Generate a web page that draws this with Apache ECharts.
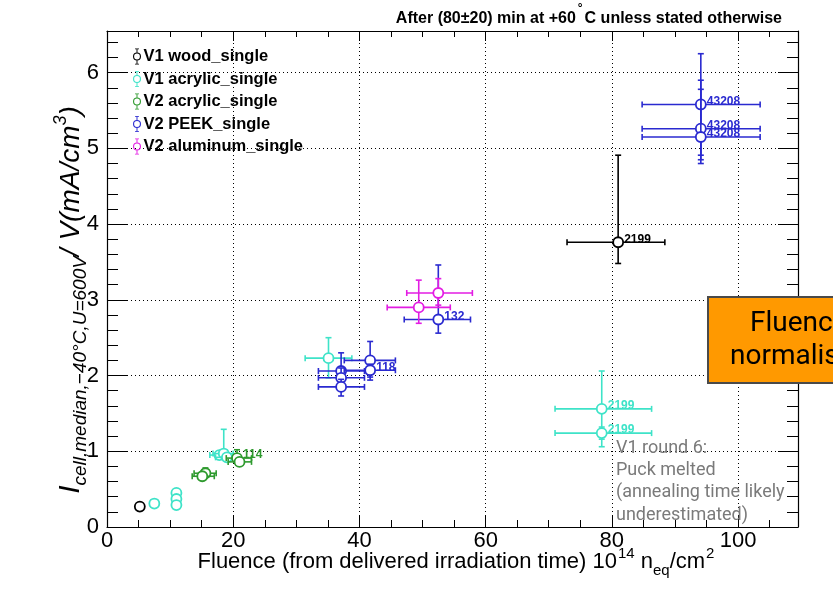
<!DOCTYPE html>
<html>
<head>
<meta charset="utf-8">
<script src="https://cdn.jsdelivr.net/npm/echarts@6/dist/echarts.min.js"></script>
<style>
html,body{margin:0;padding:0;background:#fff;}
#chart{width:833px;height:597px;}
</style>
</head>
<body>
<div id="chart"></div>
<script>
// ---------------- data ----------------
const seriesNames = ['V1 wood_single', 'V1 acrylic_single', 'V2 acrylic_single', 'V2 PEEK_single', 'V2 aluminum_single'];

// V1 wood_single
const woodFluence    = [5.2, 81.0];
const woodCurrent    = [0.27, 3.76];
const woodFluenceLo  = [5.2, 72.9];
const woodFluenceHi  = [5.2, 88.4];
const woodCurrentLo  = [0.27, 3.48];
const woodCurrentHi  = [0.27, 4.91];
const woodLabels     = ['', '2199'];

// V1 acrylic_single
const acrV1Fluence   = [7.5, 11.0, 11.0, 11.0, 17.8, 18.5, 19.0, 35.1, 78.4, 78.4];
const acrV1Current   = [0.31, 0.45, 0.37, 0.29, 0.95, 0.97, 0.92, 2.23, 1.56, 1.24];
const acrV1FluenceLo = [7.5, 11.0, 11.0, 11.0, 16.3, 16.8, 17.2, 31.4, 71.0, 71.0];
const acrV1FluenceHi = [7.5, 11.0, 11.0, 11.0, 19.4, 20.0, 20.6, 38.8, 86.3, 86.3];
const acrV1CurrentLo = [0.31, 0.45, 0.37, 0.29, 0.90, 0.93, 0.88, 1.97, 1.06, 1.16];
const acrV1CurrentHi = [0.31, 0.45, 0.37, 0.29, 1.00, 1.29, 0.97, 2.50, 2.06, 1.32];
const acrV1Labels    = ['', '', '', '', '', '', '', '', '2199', '2199'];

// V2 acrylic_single
const acrV2Fluence   = [15.6, 15.1, 20.6, 21.0];
const acrV2Current   = [0.71, 0.67, 0.91, 0.86];
const acrV2FluenceLo = [13.8, 13.5, 18.9, 19.2];
const acrV2FluenceHi = [17.3, 17.0, 22.9, 22.9];
const acrV2CurrentLo = [0.66, 0.64, 0.85, 0.82];
const acrV2CurrentHi = [0.78, 0.70, 1.02, 0.90];
const acrV2Labels    = ['', '', '114', ''];

// V2 PEEK_single
const peekFluence    = [37.1, 37.1, 37.1, 41.7, 41.7, 52.5, 94.1, 94.1, 94.1];
const peekCurrent    = [2.06, 1.97, 1.85, 2.20, 2.07, 2.74, 5.58, 5.26, 5.15];
const peekFluenceLo  = [33.5, 33.5, 33.5, 37.6, 37.6, 47.1, 84.8, 84.8, 84.8];
const peekFluenceHi  = [40.8, 40.8, 40.8, 45.7, 45.7, 57.6, 103.5, 103.5, 103.5];
const peekCurrentLo  = [1.90, 1.82, 1.73, 1.94, 1.98, 2.56, 4.91, 4.80, 4.85];
const peekCurrentHi  = [2.30, 2.10, 1.95, 2.45, 2.15, 3.46, 6.25, 5.90, 5.78];
const peekLabels     = ['', '', '', '', '118', '132', '43208', '43208', '43208'];

// V2 aluminum_single
const aluFluence     = [49.4, 52.5];
const aluCurrent     = [2.90, 3.09];
const aluFluenceLo   = [44.4, 47.5];
const aluFluenceHi   = [54.4, 57.9];
const aluCurrentLo   = [2.69, 2.93];
const aluCurrentHi   = [3.26, 3.28];
const aluLabels      = ['', ''];

const xTickValues = [0, 20, 40, 60, 80, 100];
const yTickValues = [0, 1, 2, 3, 4, 5, 6];

const annotationLines = ['V1 round 6:', 'Puck melted', '(annealing time likely', 'underestimated)'];
const boxLines = ['Fluence', 'normalised'];

// ---------------- build ----------------
const colors = ['#000000', '#3ee3c8', '#2e9a2e', '#2a2ad0', '#e31ce3'];
const groups = [
  [woodFluence, woodCurrent, woodFluenceLo, woodFluenceHi, woodCurrentLo, woodCurrentHi, woodLabels],
  [acrV1Fluence, acrV1Current, acrV1FluenceLo, acrV1FluenceHi, acrV1CurrentLo, acrV1CurrentHi, acrV1Labels],
  [acrV2Fluence, acrV2Current, acrV2FluenceLo, acrV2FluenceHi, acrV2CurrentLo, acrV2CurrentHi, acrV2Labels],
  [peekFluence, peekCurrent, peekFluenceLo, peekFluenceHi, peekCurrentLo, peekCurrentHi, peekLabels],
  [aluFluence, aluCurrent, aluFluenceLo, aluFluenceHi, aluCurrentLo, aluCurrentHi, aluLabels]
];

function makeRender(labels, color) {
  return function (params, api) {
    const x = api.value(0), y = api.value(1);
    const xlo = api.value(2), xhi = api.value(3), ylo = api.value(4), yhi = api.value(5);
    const p = api.coord([x, y]);
    const pl = api.coord([xlo, y]), ph = api.coord([xhi, y]);
    const pb = api.coord([x, ylo]), pt = api.coord([x, yhi]);
    const st = { stroke: color, lineWidth: 1.6 };
    const ch = [];
    if (xhi - xlo > 0) {
      ch.push({ type: 'line', shape: { x1: pl[0], y1: pl[1], x2: ph[0], y2: ph[1] }, style: st });
      ch.push({ type: 'line', shape: { x1: pl[0], y1: pl[1] - 3, x2: pl[0], y2: pl[1] + 3 }, style: st });
      ch.push({ type: 'line', shape: { x1: ph[0], y1: ph[1] - 3, x2: ph[0], y2: ph[1] + 3 }, style: st });
    }
    if (yhi - ylo > 0) {
      ch.push({ type: 'line', shape: { x1: pb[0], y1: pb[1], x2: pt[0], y2: pt[1] }, style: st });
      ch.push({ type: 'line', shape: { x1: pb[0] - 3, y1: pb[1], x2: pb[0] + 3, y2: pb[1] }, style: st });
      ch.push({ type: 'line', shape: { x1: pt[0] - 3, y1: pt[1], x2: pt[0] + 3, y2: pt[1] }, style: st });
    }
    ch.push({ type: 'circle', shape: { cx: p[0], cy: p[1], r: 5 }, style: { fill: '#fff', stroke: color, lineWidth: 1.8 } });
    const lab = labels[params.dataIndex];
    if (lab) {
      ch.push({ type: 'text', x: p[0] + 6, y: p[1] - 3, style: { text: lab, fill: color, font: 'bold 12px "Liberation Sans", Arial, sans-serif', verticalAlign: 'middle', align: 'left' } });
    }
    return { type: 'group', children: ch };
  };
}

const series = groups.map((g, i) => ({
  name: seriesNames[i],
  type: 'custom',
  coordinateSystem: 'cartesian2d',
  xAxisIndex: 0, yAxisIndex: 0,
  itemStyle: { color: colors[i] },
  renderItem: makeRender(g[6], colors[i]),
  encode: { x: [0, 2, 3], y: [1, 4, 5] },
  data: g[0].map((v, k) => [v, g[1][k], g[2][k], g[3][k], g[4][k], g[5][k]]),
  clip: true,
  z: 10
}));

const legendIcon = 'path://M1,10 A5,5 0 1,0 11,10 A5,5 0 1,0 1,10 Z M2.4,10 A3.6,3.6 0 1,1 9.6,10 A3.6,3.6 0 1,1 2.4,10 Z M5.4,1 H6.6 V5 H5.4 Z M5.4,15 H6.6 V19 H5.4 Z M3.5,0 H8.5 V1 H3.5 Z M3.5,19 H8.5 V20 H3.5 Z';

const axisFont = '"Liberation Sans", Arial, sans-serif';
const xMin = 0, xMax = 109.5, yMin = 0, yMax = 6.55;

const option = {
  backgroundColor: '#fff',
  animation: false,
  grid: { left: 107, right: 35, top: 31, bottom: 70, containLabel: false },
  legend: {
    data: seriesNames.map(n => ({ name: n, icon: legendIcon })),
    orient: 'vertical', left: 128, top: 43,
    itemWidth: 9, itemHeight: 16, itemGap: 5.5,
    textStyle: { fontFamily: axisFont, fontWeight: 'bold', fontSize: 16.5, color: '#000', padding: [0, 0, 0, -3] },
    selectedMode: false
  },
  xAxis: [
    {
      type: 'value', min: xMin, max: xMax, interval: 20, position: 'bottom',
      axisLine: { show: true, onZero: false, lineStyle: { color: '#000', width: 1.2 } },
      axisTick: { show: true, inside: true, length: 12, lineStyle: { color: '#000' } },
      minorTick: { show: true, splitNumber: 4, length: 7, lineStyle: { color: '#000' } },
      axisLabel: { show: true, margin: 3, fontSize: 22, color: '#000', fontFamily: axisFont, showMaxLabel: false,
        formatter: v => (xTickValues.indexOf(v) >= 0 ? String(v) : '') },
      splitLine: { show: true, lineStyle: { color: '#000', type: [1, 3], width: 1 } }
    },
    {
      type: 'value', min: xMin, max: xMax, interval: 20, position: 'top',
      axisLine: { show: true, onZero: false, lineStyle: { color: '#000', width: 1.2 } },
      axisTick: { show: true, inside: true, length: 10, lineStyle: { color: '#000' } },
      minorTick: { show: true, splitNumber: 4, length: 6, lineStyle: { color: '#000' } },
      axisLabel: { show: false },
      splitLine: { show: false }
    }
  ],
  yAxis: [
    {
      type: 'value', min: yMin, max: yMax, interval: 1, position: 'left',
      axisLine: { show: true, onZero: false, lineStyle: { color: '#000', width: 1.2 } },
      axisTick: { show: true, inside: true, length: 20, lineStyle: { color: '#000' } },
      minorTick: { show: true, splitNumber: 5, length: 11, lineStyle: { color: '#000' } },
      axisLabel: { show: true, margin: 8, fontSize: 22, color: '#000', fontFamily: axisFont, showMaxLabel: false,
        formatter: v => (yTickValues.indexOf(v) >= 0 ? String(v) : '') },
      splitLine: { show: true, lineStyle: { color: '#000', type: [1, 3], width: 1 } }
    },
    {
      type: 'value', min: yMin, max: yMax, interval: 1, position: 'right',
      axisLine: { show: true, onZero: false, lineStyle: { color: '#000', width: 1.2 } },
      axisTick: { show: true, inside: true, length: 20, lineStyle: { color: '#000' } },
      minorTick: { show: true, splitNumber: 5, length: 11, lineStyle: { color: '#000' } },
      axisLabel: { show: false },
      splitLine: { show: false }
    }
  ],
  series: series,
  graphic: [
    {
      type: 'text', right: 51, top: 3, z: 20,
      style: {
        text: '{a|After (80±20) min at +60}{s|°}{a|C unless stated otherwise}',
        rich: {
          a: { font: 'bold 16px "Liberation Sans", Arial, sans-serif', fill: '#000', lineHeight: 24, verticalAlign: 'bottom' },
          s: { font: 'bold 12px "Liberation Sans", Arial, sans-serif', fill: '#000', lineHeight: 24, verticalAlign: 'top', padding: [0, 2, 0, 2] }
        }
      }
    },
    {
      type: 'text', x: 71, y: 300, rotation: Math.PI / 2, z: 20,
      style: {
        text: '{i|I}{sub|cell,median,−40°C,U=600V}{n|/ V(}{n|mA/cm}{sup|3}{n|)}',
        align: 'center', verticalAlign: 'middle',
        rich: {
          i: { font: 'italic 30px "Liberation Sans", Arial, sans-serif', fill: '#000', lineHeight: 38, verticalAlign: 'middle' },
          sub: { font: 'italic 19px "Liberation Sans", Arial, sans-serif', fill: '#000', lineHeight: 38, verticalAlign: 'bottom' },
          n: { font: 'italic 28px "Liberation Sans", Arial, sans-serif', fill: '#000', lineHeight: 38, verticalAlign: 'middle' },
          sup: { font: 'italic 18px "Liberation Sans", Arial, sans-serif', fill: '#000', lineHeight: 38, verticalAlign: 'top' }
        }
      }
    },
    {
      type: 'text', x: 456, y: 562, z: 20,
      style: {
        text: '{n|Fluence (from delivered irradiation time) 10}{sup|14}{n| n}{sub|eq}{n|/cm}{sup|2}',
        align: 'center', verticalAlign: 'middle',
        rich: {
          n: { font: '22px "Liberation Sans", Arial, sans-serif', fill: '#000', lineHeight: 32, verticalAlign: 'middle' },
          sup: { font: '15px "Liberation Sans", Arial, sans-serif', fill: '#000', lineHeight: 32, verticalAlign: 'top', padding: [0, 0, 0, 1] },
          sub: { font: '15px "Liberation Sans", Arial, sans-serif', fill: '#000', lineHeight: 32, verticalAlign: 'bottom' }
        }
      }
    },
    {
      type: 'rect', z: 30,
      shape: { x: 708, y: 297, width: 140, height: 86 },
      style: { fill: '#ff9900', stroke: '#4a4a4a', lineWidth: 2 }
    },
    {
      type: 'text', x: 750, y: 324, z: 31,
      style: { text: boxLines[0], font: '28px Roboto, "Noto Sans", sans-serif', fill: '#000', verticalAlign: 'middle', align: 'left' }
    },
    {
      type: 'text', x: 730, y: 357, z: 31,
      style: { text: boxLines[1], font: '28px Roboto, "Noto Sans", sans-serif', fill: '#000', verticalAlign: 'middle', align: 'left' }
    },
    {
      type: 'text', x: 616, y: 437, z: 25,
      style: { text: annotationLines.join('\n'), font: '18px Roboto, "Noto Sans", sans-serif', fill: '#7a7a7a', lineHeight: 22.3, align: 'left', verticalAlign: 'top' }
    }
  ]
};

const chart = echarts.init(document.getElementById('chart'), null, { renderer: 'canvas' });
chart.setOption(option);
</script>
</body>
</html>
